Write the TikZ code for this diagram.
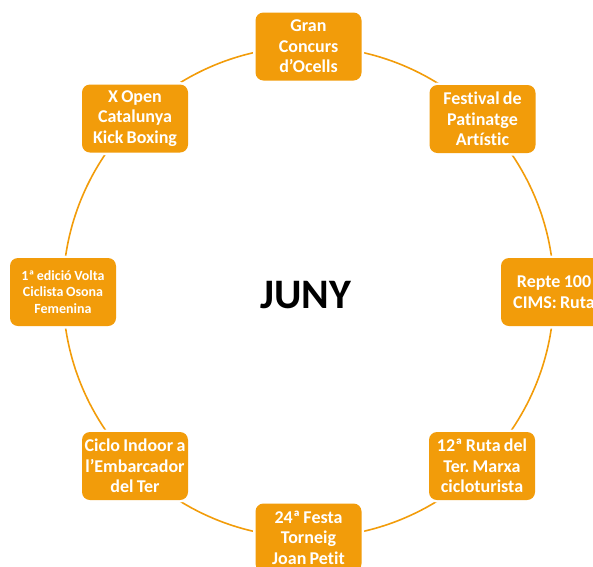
\documentclass[tikz,border=0pt]{standalone}
\usepackage{fontspec}
\setmainfont{Carlito}[Ligatures={NoCommon,NoRare},WordSpace=0.8]
\frenchspacing
\definecolor{evorange}{RGB}{242,156,10}
\tikzset{
  evbox/.style={rounded corners=8pt, fill=evorange, text=white,
    minimum width=106pt, minimum height=68pt, inner sep=0pt,
    align=center,
    font=\fontsize{18}{20.5}\selectfont\bfseries\frenchspacing,
    preaction={draw=white, line width=5pt}},
  evsmall/.style={evbox, font=\fontsize{14}{16.5}\selectfont\bfseries\frenchspacing},
  ring/.style={draw=evorange, line width=1.6pt}
}
\begin{document}
\begin{tikzpicture}[x=1pt,y=-1pt]
\useasboundingbox (0,0) rectangle (593,566);
\clip (0,0) rectangle (593,566);
\node[circle, ring, minimum size=491pt, inner sep=0pt] (cyc) at (308.5,292) {};
\node[evbox] (n1) at (308.5,46.5) {Gran\\Concurs\\d’Ocells};
\node[evbox] (n2) at (482.5,119) {Festival de\\Patinatge\\Artístic};
\node[evbox] (n3) at (554,292) {Repte 100\\CIMS: Ruta};
\node[evbox] (n4) at (482,466) {12ª Ruta del\\Ter. Marxa\\cicloturista};
\node[evbox] (n5) at (308.5,537.5) {24ª Festa\\Torneig\\Joan Petit};
\node[evbox] (n6) at (135,466) {Ciclo Indoor a\\l’Embarcador\\del Ter};
\node[evsmall] (n7) at (63,292) {1ª edició Volta\\Ciclista Osona\\Femenina};
\node[evbox] (n8) at (135,118.5) {X Open\\Catalunya\\Kick Boxing};
\node[font=\fontsize{42}{48}\selectfont\bfseries] (title) at (306,295) {JUNY};
\end{tikzpicture}
\end{document}
